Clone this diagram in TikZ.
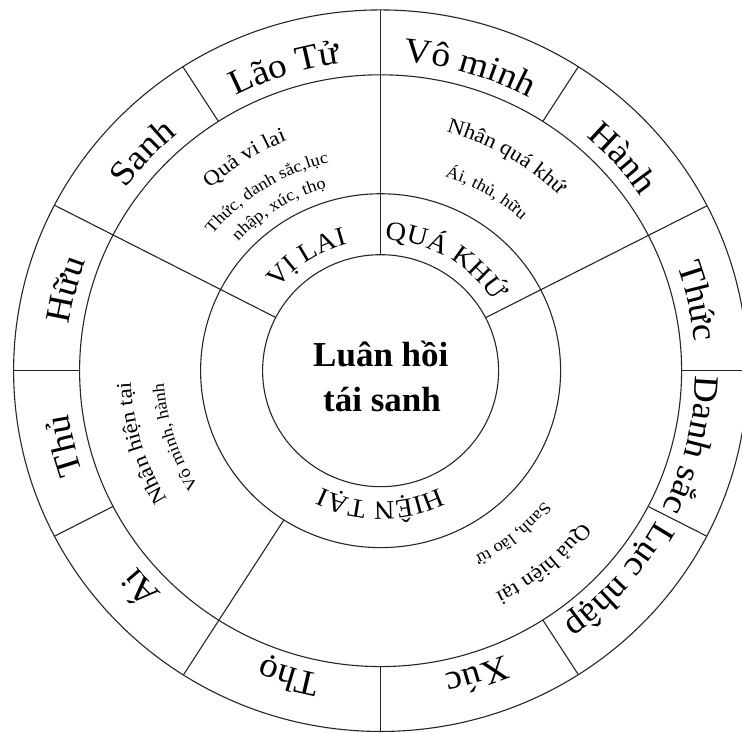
\documentclass[tikz,border=0pt]{standalone}
\usepackage{fontspec}
\setmainfont{Liberation Serif}
\newfontfamily\wf[FakeStretch=1.07]{Liberation Serif}
\newfontfamily\wg[FakeStretch=1.1]{Liberation Serif}
\usetikzlibrary{decorations.text}
\newcommand\fo{\wf\fontsize{35}{40}\selectfont}
\newcommand\fm{\wf\fontsize{26.5}{31}\selectfont}
\newcommand\fsm{\wg\fontsize{21}{24}\selectfont}
\newcommand\ftn{\wg\fontsize{16.8}{20}\selectfont}
\newcommand\arctext[5]{\path[decorate,decoration={text along path,text align=center,text={|#4|#5}}] (#2+#3:#1pt) arc[start angle=#2+#3,end angle=#2-#3,radius=#1pt];}
\tikzset{ring/.style={draw=black!85,line width=1.1pt}}
\begin{document}
\begin{tikzpicture}[x=1pt,y=1pt]
\useasboundingbox (0,0) rectangle (742,733);
\fill[white] (0,0) rectangle (742,733);
\clip (0,0) rectangle (742,733);
\begin{scope}[shift={(380.6,362.3)},yscale=0.983]
  % circles
  \draw[ring] (0,0) circle[radius=367pt];
  \draw[ring] (0,0) circle[radius=301pt];
  \draw[ring] (0,0) circle[radius=180pt];
  \draw[ring] (0,0) circle[radius=118pt];
  % full dividers
  \foreach \a in {90,27.2,152.7} \draw[ring] (\a:118pt) -- (\a:367pt);
  \draw[ring] (237.5:180pt) -- (237.5:367pt);
  \foreach \a in {0,57.4,122.6,180,207.3,270,302.6,332.7} \draw[ring] (\a:301pt) -- (\a:367pt);
  % outer labels
  \arctext{315}{12.5}{45}{\fo}{Thức}
  \arctext{315}{41.5}{45}{\fo}{Hành}
  \arctext{315}{73.7}{45}{\fo}{Vô minh}
  \arctext{315}{107.5}{45}{\fo}{Lão Tử}
  \arctext{315}{137.3}{45}{\fo}{Sanh}
  \arctext{315}{165.5}{45}{\fo}{Hữu}
  \arctext{315}{193.5}{45}{\fo}{Thủ}
  \arctext{315}{222.4}{45}{\fo}{Ái}
  \arctext{315}{253.4}{45}{\fo}{Thọ}
  \arctext{315}{287.5}{45}{\fo}{Xúc}
  \arctext{315}{318.5}{45}{\fo}{Lục nhập}
  \arctext{315}{346.4}{45}{\fo}{Danh sắc}
  % inner labels
  \arctext{133}{123}{60}{\fm}{VỊ LAI}
  \arctext{133}{59.5}{60}{\fm}{QUÁ KHỨ}
  \arctext{133}{270}{70}{\fm}{HIỆN TẠI}
  % middle ring texts
  \arctext{252}{122.5}{60}{\fsm}{Quả vi lai}
  \arctext{218}{122.4}{60}{\ftn}{Thức, danh sắc,lục}
  \arctext{194}{122}{60}{\ftn}{nhập, xúc, thọ}
  \arctext{252}{59.7}{60}{\fsm}{Nhân quá khứ}
  \arctext{208}{59.4}{60}{\ftn}{Ái, thủ, hữu}
  \arctext{250}{197}{60}{\fsm}{Nhân hiện tại}
  \arctext{217}{198}{60}{\ftn}{Vô minh, hành}
  \arctext{254}{310}{60}{\fsm}{Quả hiện tại}
  \arctext{211}{309}{60}{\ftn}{Sanh, lão tử}
\end{scope}
\node[anchor=base,inner sep=0pt,font=\bfseries\fontsize{35}{42}\selectfont] (t1) at (380.8,366.3) {Luân hồi};
\node[anchor=base,inner sep=0pt,font=\bfseries\fontsize{35}{42}\selectfont] (t2) at (382,321.3) {tái sanh};
\end{tikzpicture}
\end{document}
